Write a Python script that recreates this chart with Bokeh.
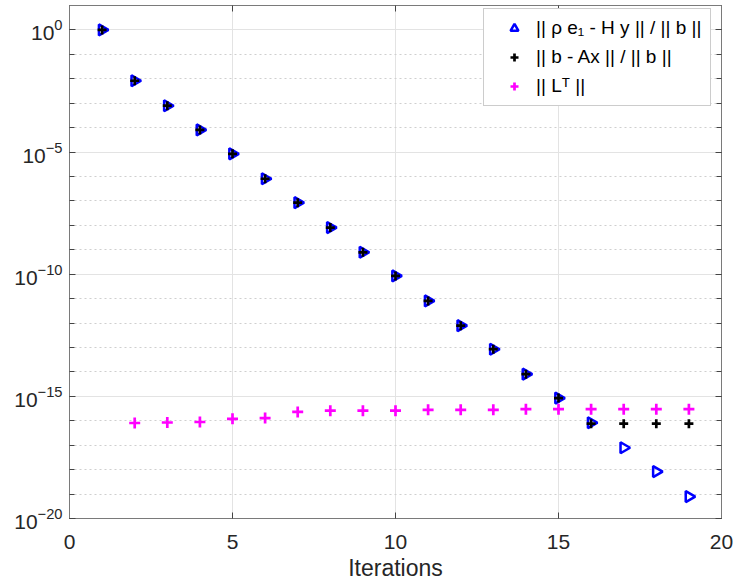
import numpy as np
from bokeh.plotting import figure
from bokeh.models import (FixedTicker, LogAxis, LinearAxis, Legend, LegendItem,
                          Range1d, CustomJSTickFormatter)
from bokeh.embed import file_html
from bokeh.resources import INLINE

# ---- data ----
iters = [1, 2, 3, 4, 5, 6, 7, 8, 9, 10, 11, 12, 13, 14, 15, 16, 17, 18, 19]
hessenberg_res = [1.0, 8.3e-3, 7.9e-4, 8.1e-5, 8.5e-6, 8.1e-7, 8.5e-8, 8.1e-9,
                  7.9e-10, 8.5e-11, 8.1e-12, 7.8e-13, 8.5e-14, 8.1e-15, 8.5e-16,
                  8.3e-17, 7.9e-18, 8.3e-19, 7.9e-20]
true_res = [1.0, 8.3e-3, 7.9e-4, 8.1e-5, 8.5e-6, 8.1e-7, 8.5e-8, 8.1e-9,
            7.9e-10, 8.5e-11, 8.1e-12, 7.8e-13, 8.5e-14, 8.1e-15, 8.5e-16,
            7.6e-17, 7.6e-17, 7.6e-17, 7.6e-17]
lt_iters = [2, 3, 4, 5, 6, 7, 8, 9, 10, 11, 12, 13, 14, 15, 16, 17, 18, 19]
lt_norm = [8.1e-17, 8.5e-17, 8.9e-17, 1.2e-16, 1.29e-16, 2.3e-16, 2.6e-16,
           2.6e-16, 2.6e-16, 2.8e-16, 2.8e-16, 2.8e-16, 3.0e-16, 3.0e-16,
           3.0e-16, 3.0e-16, 3.0e-16, 3.0e-16]
x_ticks = [0, 5, 10, 15, 20]
y_major = [1e-20, 1e-15, 1e-10, 1e-5, 1e0]
y_minor = [10.0 ** (-k) for k in range(0, 21)]
labels = ["|| \u03c1 e\u2081 - H y || / || b ||",
          "|| b - Ax || / || b ||",
          "|| L\u1d40 ||"]

FONT = "Liberation Sans"
TXT = "#262626"
FRAME = "#7a7a7a"
TICK = "#444444"

p = figure(width=733, height=583, y_axis_type="log",
           x_range=Range1d(0, 20), y_range=Range1d(1e-20, 1e1),
           output_backend="svg", toolbar_location=None,
           min_border_left=69, min_border_right=12, min_border_top=5,
           min_border_bottom=64)
p.background_fill_color = "white"
p.outline_line_color = FRAME
p.outline_line_width = 1

xt = FixedTicker(ticks=x_ticks, minor_ticks=[])
yt = FixedTicker(ticks=y_major, minor_ticks=y_minor)


def style_axis(ax, show_labels):
    ax.axis_line_color = FRAME
    ax.major_tick_line_color = TICK
    ax.minor_tick_line_color = TICK
    ax.major_tick_in = 6
    ax.major_tick_out = 0
    ax.minor_tick_in = 5
    ax.minor_tick_out = 0
    ax.major_label_text_font = FONT
    ax.major_label_text_color = TXT
    if show_labels:
        ax.major_label_text_font_size = "21px"
    else:
        ax.formatter = CustomJSTickFormatter(code="return ''")
        ax.major_label_text_font_size = "1px"
        ax.major_label_standoff = 0


p.xaxis.ticker = xt
p.yaxis.ticker = yt
style_axis(p.xaxis[0], True)
style_axis(p.yaxis[0], True)
p.xaxis.major_label_standoff = 16
p.yaxis.major_label_standoff = 7
p.xaxis.axis_label = "Iterations"
p.xaxis.axis_label_text_font = FONT
p.xaxis.axis_label_text_font_size = "23px"
p.xaxis.axis_label_text_font_style = "normal"
p.xaxis.axis_label_text_color = TXT
p.xaxis.axis_label_standoff = 3

ry = LogAxis(ticker=yt)
style_axis(ry, False)
p.add_layout(ry, "right")
tx = LinearAxis(ticker=xt)
style_axis(tx, False)
p.add_layout(tx, "above")

p.xgrid.ticker = xt
p.ygrid.ticker = yt
p.xgrid.grid_line_color = "#e3e3e3"
p.ygrid.grid_line_color = "#e3e3e3"
p.ygrid.minor_grid_line_color = "#cfcfcf"
p.ygrid.minor_grid_line_dash = "2 3"

r1 = p.scatter(iters, hessenberg_res, marker="triangle", angle=-np.pi / 2,
               size=11, line_color="#0000ff", fill_color=None, line_width=2.5)
r2 = p.scatter(iters, true_res, marker="cross", size=9, line_color="black",
               line_width=2.7)
r3 = p.scatter(lt_iters, lt_norm, marker="cross", size=11, line_color="#ff00ff",
               line_width=2.7)

legend = Legend(items=[LegendItem(label=labels[0], renderers=[r1]),
                       LegendItem(label=labels[1], renderers=[r2]),
                       LegendItem(label=labels[2], renderers=[r3])],
                location=(414, 412), padding=8, spacing=7,
                glyph_width=44, glyph_height=20, label_height=20,
                label_standoff=0, label_width=166,
                label_text_font=FONT, label_text_font_size="19px",
                label_text_color="black",
                border_line_color="#9a9a9a", border_line_width=1,
                background_fill_color="white", background_fill_alpha=1.0)
p.add_layout(legend)

open("out.html", "w").write(file_html(p, INLINE))
